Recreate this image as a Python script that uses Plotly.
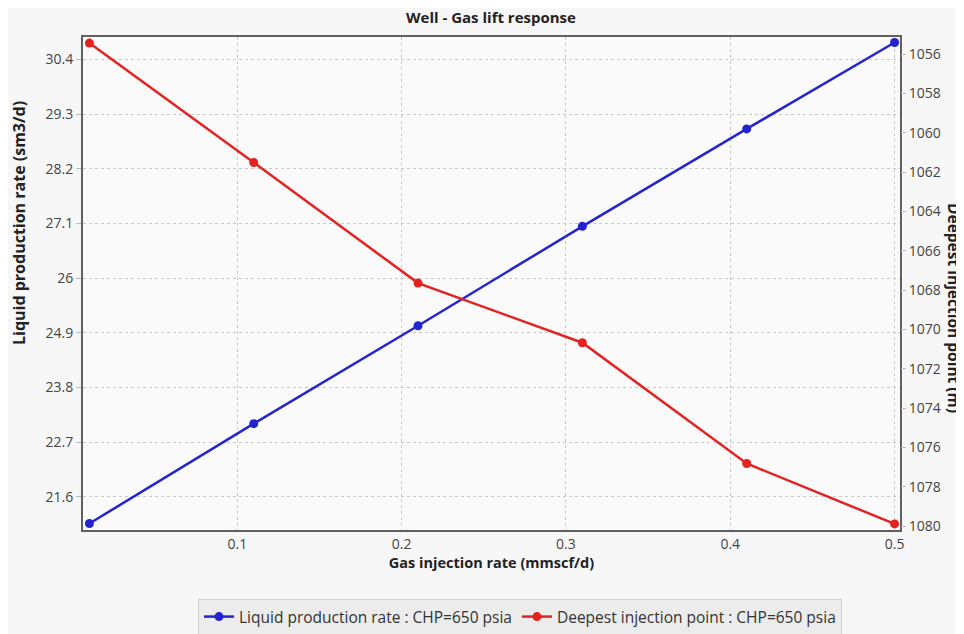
import plotly.graph_objects as go

gas_rate = [0.01, 0.11, 0.21, 0.31, 0.41, 0.5]
liquid_rate = [21.06, 23.07, 25.04, 27.04, 29.0, 30.74]
injection_depth = [1055.44, 1061.51, 1067.64, 1070.67, 1076.81, 1079.88]

left_ticks = [21.6, 22.7, 23.8, 24.9, 26, 27.1, 28.2, 29.3, 30.4]
left_labels = ["21.6", "22.7", "23.8", "24.9", "26", "27.1", "28.2", "29.3", "30.4"]
right_ticks = [1056, 1058, 1060, 1062, 1064, 1066, 1068, 1070, 1072, 1074, 1076, 1078, 1080]
x_ticks = [0.1, 0.2, 0.3, 0.4, 0.5]
x_labels = ["0.1", "0.2", "0.3", "0.4", "0.5"]

BLUE = "#2424cf"
RED = "#e32222"
FONT = "Open Sans"

# page body has an 8px default margin; figure is sized to fit the window
OFF = 8
W, H = 964 - OFF, 634 - OFF
L, R, T, B = 83 - OFF, 964 - 900, 37 - OFF, 634 - 530
PW = W - L - R
PH = H - T - B

fig = go.Figure()
fig.add_trace(go.Scatter(
    x=gas_rate, y=liquid_rate, mode="lines+markers",
    name="Liquid production rate : CHP=650 psia",
    line=dict(color=BLUE, width=2.5), marker=dict(color=BLUE, size=9),
    yaxis="y", cliponaxis=False))
fig.add_trace(go.Scatter(
    x=gas_rate, y=injection_depth, mode="lines+markers",
    name="Deepest injection point : CHP=650 psia",
    line=dict(color=RED, width=2.5), marker=dict(color=RED, size=9),
    yaxis="y2", cliponaxis=False))

tickfont = dict(family=FONT, size=14, color="#444444")
titlefont = dict(family=FONT, size=14.5, color="#222222")

fig.update_layout(
    width=W, height=H, autosize=False,
    margin=dict(l=L, r=R, t=T, b=B, autoexpand=False),
    paper_bgcolor="#f7f7f7",
    plot_bgcolor="#fafafa",
    title=dict(text="<b>Well - Gas lift response</b>", x=(491 - OFF) / W, xanchor="center",
               y=1 - (18 - OFF) / H, yanchor="middle",
               font=dict(family=FONT, size=15, color="#222222")),
    xaxis=dict(range=[0.0061, 0.5033], tickvals=x_ticks, ticktext=x_labels,
               showgrid=True, gridcolor="#c9c9c9", griddash="dot", gridwidth=1,
               showline=True, linecolor="#606060", linewidth=2, mirror=True,
               ticks="", tickfont=tickfont, zeroline=False,
               title=dict(text="<b>Gas injection rate (mmscf/d)</b>", font=titlefont, standoff=4)),
    yaxis=dict(range=[20.93, 30.85], tickvals=left_ticks, ticktext=left_labels,
               showgrid=True, gridcolor="#c9c9c9", griddash="dot", gridwidth=1,
               showline=True, linecolor="#606060", linewidth=2, mirror=True,
               ticks="outside", ticklen=5, tickcolor="#bbbbbb", tickfont=tickfont, zeroline=False),
    yaxis2=dict(range=[1080.19, 1055.13], tickvals=right_ticks, overlaying="y", side="right",
                showgrid=False, showline=False, zeroline=False,
                ticks="outside", ticklen=5, tickcolor="#bbbbbb", tickfont=tickfont),
    legend=dict(orientation="h", x=(520 - 83) / PW, xanchor="center", y=-(617 - 530) / PH, yanchor="middle",
                bgcolor="#ececec", bordercolor="#d4d4d4", borderwidth=1,
                font=dict(family=FONT, size=15.5, color="#333333")),
    showlegend=True,
    annotations=[
        dict(text="<b>Liquid production rate (sm3/d)</b>", xref="paper", yref="paper",
             x=(19 - 83) / PW, y=(530 - 223) / PH, textangle=-90, showarrow=False,
             font=dict(family=FONT, size=16, color="#222222"), xanchor="center", yanchor="middle"),
        dict(text="<b>Deepest injection point (m)</b>", xref="paper", yref="paper",
             x=(954 - 83) / PW, y=(530 - 308) / PH, textangle=90, showarrow=False,
             font=dict(family=FONT, size=15.5, color="#222222"), xanchor="center", yanchor="middle"),
    ],
)

fig.write_html("out.html")
